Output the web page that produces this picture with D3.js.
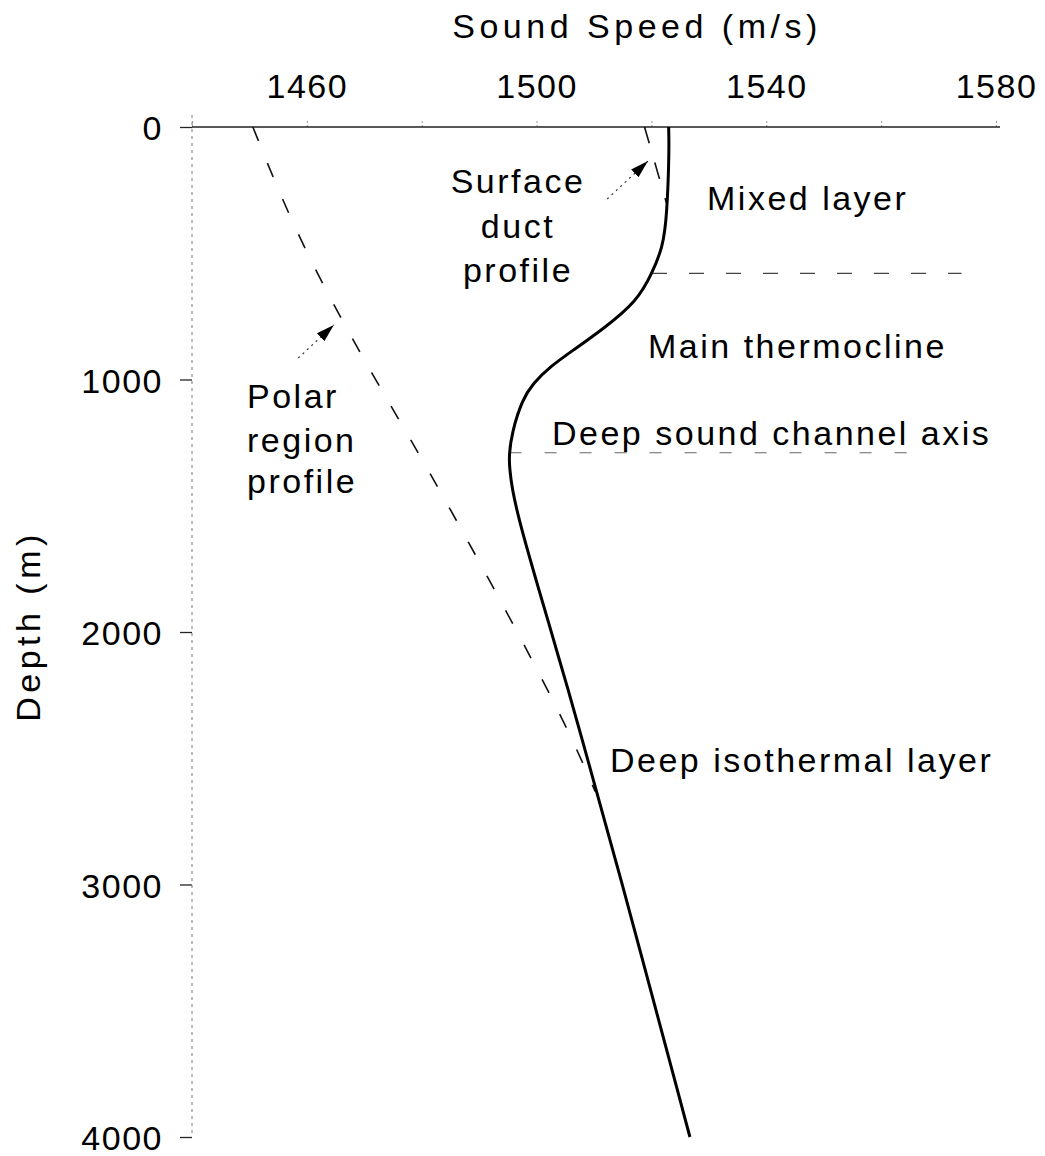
<!DOCTYPE html>
<html>
<head>
<meta charset="utf-8">
<script src="https://cdn.jsdelivr.net/npm/d3@7"></script>
<style>
  body { margin: 0; background: white; }
  text { font-family: "Liberation Sans", Arial, sans-serif; fill: black; }
  .label { font-size: 34px; letter-spacing: 2.5px; }
  .axis-title { font-size: 34px; letter-spacing: 4.5px; }
  .axis text { font-size: 34px; letter-spacing: 1.5px; }
</style>
</head>
<body>
<div id="profile"></div>
<script>
// values
const speedTicks = [1460, 1500, 1540, 1580]
const speedMinorTicks = [1440, 1460, 1480, 1500, 1520, 1540, 1560, 1580]
const depthTicks = [0, 1000, 2000, 3000, 4000]

// typical mid-latitude profile (solid)
const profileDepth = [0, 100, 350, 475, 580, 690, 800, 885, 950, 1015, 1080, 1210, 1300, 1350, 1430, 1560, 1690, 1825, 1955, 2090, 2220, 2350, 2900, 4000]
const profileSpeed = [1523.0, 1523.1, 1522.7, 1522.0, 1520.1, 1517.5, 1511.6, 1506.3, 1502.3, 1499.4, 1497.5, 1495.7, 1495.2, 1495.3, 1495.7, 1497.0, 1498.6, 1500.3, 1502.0, 1503.7, 1505.4, 1507.0, 1513.8, 1526.7]

// polar region profile (dashed)
const polarDepth = [0, 464, 1004, 1361, 2286, 2631]
const polarSpeed = [1450.6, 1458.8, 1471.9, 1481.4, 1503.6, 1510.2]

// surface duct profile (dashed)
const ductDepth = [0, 300]
const ductSpeed = [1518.8, 1522.6]

// layer boundaries
const mixedLayerDepth = 580
const mixedLayerSpeeds = [1520.1, 1574]
const channelAxisDepth = 1290
const channelAxisSpeeds = [1495.3, 1565]

function drawProfile() {

// 1. dimensions
  const dimensions = {
    width: 1045,
    height: 1156,
    left: 192,
    right: 996,
    top: 127,
    bottom: 1137,
  }

// 2. canvas
  const wrapper = d3.select("#profile")
    .append("svg")
      .attr("width", dimensions.width)
      .attr("height", dimensions.height)

  const defs = wrapper.append("defs")
  defs.append("marker")
      .attr("id", "head")
      .attr("viewBox", "0 0 10 10")
      .attr("refX", 10)
      .attr("refY", 5)
      .attr("markerWidth", 18)
      .attr("markerHeight", 18)
      .attr("markerUnits", "userSpaceOnUse")
      .attr("orient", "auto")
    .append("path")
      .attr("d", "M0,2 L10,5 L0,8 Z")
      .attr("fill", "black")

// 3. scales
  const xScale = d3.scaleLinear()
    .domain([1440, 1580])
    .range([dimensions.left, dimensions.right])

  const yScale = d3.scaleLinear()
    .domain([0, 4000])
    .range([dimensions.top, dimensions.bottom])

// 4. axes
  const xAxisGenerator = d3.axisTop(xScale)
    .tickValues(speedMinorTicks)
    .tickSize(8)
    .tickPadding(21)
    .tickFormat(d => speedTicks.includes(d) ? d : "")
  const xAxis = wrapper.append("g")
    .attr("class", "axis")
    .attr("transform", `translate(0, ${dimensions.top})`)
    .call(xAxisGenerator)
  xAxis.select(".domain").remove()
  xAxis.selectAll(".tick line")
    .attr("stroke", "#999")
    .attr("stroke-dasharray", "2 2")

  wrapper.append("line")
    .attr("x1", dimensions.left)
    .attr("x2", dimensions.right + 4)
    .attr("y1", dimensions.top)
    .attr("y2", dimensions.top)
    .attr("stroke", "#222")
    .attr("stroke-width", 1.5)

  const yAxisGenerator = d3.axisLeft(yScale)
    .tickValues(depthTicks)
    .tickSize(12)
    .tickPadding(17)
    .tickFormat(d3.format("d"))
  const yAxis = wrapper.append("g")
    .attr("class", "axis")
    .attr("transform", `translate(${dimensions.left}, 0)`)
    .call(yAxisGenerator)
  yAxis.select(".domain").remove()
  yAxis.selectAll(".tick text").attr("dy", "0.37em")
  yAxis.selectAll(".tick line").attr("stroke", "#222").attr("stroke-width", 1.3)

  wrapper.append("line")
    .attr("x1", dimensions.left)
    .attr("x2", dimensions.left)
    .attr("y1", dimensions.top - 12)
    .attr("y2", dimensions.bottom - 2)
    .attr("stroke", "#777")
    .attr("stroke-width", 1)
    .attr("stroke-dasharray", "3 4")

  wrapper.append("text")
    .attr("class", "axis-title")
    .attr("x", 637)
    .attr("y", 38)
    .style("text-anchor", "middle")
    .text("Sound Speed (m/s)")

  wrapper.append("text")
    .attr("class", "axis-title")
    .attr("transform", "translate(40, 626) rotate(-90)")
    .style("text-anchor", "middle")
    .text("Depth (m)")

// 5. layer lines
  wrapper.append("line")
    .attr("x1", xScale(mixedLayerSpeeds[0]))
    .attr("x2", xScale(mixedLayerSpeeds[1]))
    .attr("y1", yScale(mixedLayerDepth))
    .attr("y2", yScale(mixedLayerDepth))
    .attr("stroke", "#444")
    .attr("stroke-width", 1.3)
    .attr("stroke-dasharray", "15 22")

  wrapper.append("line")
    .attr("x1", xScale(channelAxisSpeeds[0]))
    .attr("x2", xScale(channelAxisSpeeds[1]))
    .attr("y1", yScale(channelAxisDepth))
    .attr("y2", yScale(channelAxisDepth))
    .attr("stroke", "#666")
    .attr("stroke-width", 1.2)
    .attr("stroke-dasharray", "12 23")

// 6. profiles
  const lineGenerator = d3.line()
    .x(d => xScale(d[1]))
    .y(d => yScale(d[0]))
    .curve(d3.curveBasis)

  wrapper.append("path")
    .attr("d", lineGenerator(d3.zip(polarDepth, polarSpeed)))
    .attr("fill", "none")
    .attr("stroke", "#111")
    .attr("stroke-width", 1.6)
    .attr("stroke-dasharray", "15 24")

  wrapper.append("path")
    .attr("d", lineGenerator(d3.zip(ductDepth, ductSpeed)))
    .attr("fill", "none")
    .attr("stroke", "#111")
    .attr("stroke-width", 1.6)
    .attr("stroke-dasharray", "17 20")

  wrapper.append("path")
    .attr("d", lineGenerator(d3.zip(profileDepth, profileSpeed)))
    .attr("fill", "none")
    .attr("stroke", "black")
    .attr("stroke-width", 3)

// 7. annotations
  const arrows = [
    { from: [1458.5, 915], to: [1464.7, 784] },
    { from: [1512.3, 285], to: [1519.4, 135] },
  ]
  wrapper.selectAll(".arrow")
    .data(arrows)
    .join("line")
      .attr("class", "arrow")
      .attr("x1", d => xScale(d.from[0]))
      .attr("y1", d => yScale(d.from[1]))
      .attr("x2", d => xScale(d.to[0]))
      .attr("y2", d => yScale(d.to[1]))
      .attr("stroke", "#333")
      .attr("stroke-width", 1.2)
      .attr("stroke-dasharray", "2 4")
      .attr("marker-end", "url(#head)")

  const labels = [
    { text: "Surface", x: 518, y: 193, anchor: "middle" },
    { text: "duct", x: 518, y: 238, anchor: "middle" },
    { text: "profile", x: 518, y: 282, anchor: "middle" },
    { text: "Mixed layer", x: 707, y: 210, anchor: "start" },
    { text: "Main thermocline", x: 648, y: 358, anchor: "start" },
    { text: "Deep sound channel axis", x: 552, y: 445, anchor: "start" },
    { text: "Polar", x: 247, y: 408, anchor: "start" },
    { text: "region", x: 247, y: 452, anchor: "start" },
    { text: "profile", x: 247, y: 493, anchor: "start" },
    { text: "Deep isothermal layer", x: 610, y: 772, anchor: "start" },
  ]
  wrapper.selectAll(".label")
    .data(labels)
    .join("text")
      .attr("class", "label")
      .attr("x", d => d.x)
      .attr("y", d => d.y)
      .style("text-anchor", d => d.anchor)
      .text(d => d.text)
}

drawProfile()
</script>
</body>
</html>
